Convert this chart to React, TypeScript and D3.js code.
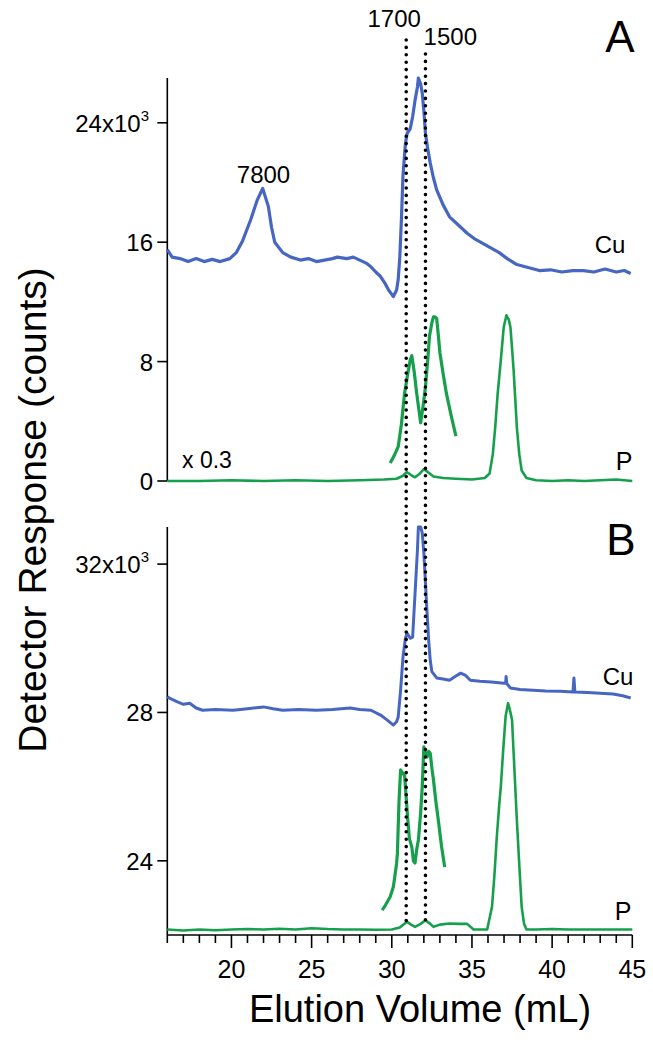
import React from 'react';
import * as d3 from 'd3';

// elution volume (mL) vs detector response (x10^3 counts)
const cuA: [number, number][] = [
  [16, 15.5], [16.3, 15.0], [16.8, 14.9], [17.3, 14.7], [17.8, 14.9], [18.3, 14.7], [18.8, 14.85],
  [19.3, 14.7], [19.9, 14.9], [20.3, 15.3], [20.7, 16.1], [21.2, 17.5], [21.6, 18.8], [21.95, 19.6],
  [22.3, 18.4], [22.5, 17.0], [22.7, 16.0], [23.2, 15.3], [23.7, 15.0], [24.3, 14.8], [24.8, 14.9],
  [25.3, 14.7], [25.8, 14.8], [26.3, 14.9], [26.6, 15.0], [27.2, 14.9], [27.6, 15.0], [28.0, 14.8],
  [28.4, 14.6], [28.7, 14.35], [29.0, 14.0], [29.3, 13.7], [29.6, 13.2], [29.8, 12.8], [30.1, 12.35],
  [30.3, 12.8], [30.4, 13.5], [30.5, 15.0], [30.6, 17.5], [30.7, 20.5], [30.85, 22.6], [30.96, 23.3],
  [31.15, 23.6], [31.3, 24.4], [31.45, 25.5], [31.6, 26.4], [31.66, 27.0], [31.8, 26.6], [31.9, 26.0],
  [32.0, 24.8], [32.1, 23.3], [32.25, 22.2], [32.4, 21.3], [32.6, 20.3], [32.8, 19.5], [33.2, 18.5],
  [33.6, 17.7], [34.2, 17.1], [34.7, 16.6], [35.2, 16.2], [35.7, 15.9], [36.2, 15.6], [36.7, 15.3],
  [37.2, 14.9], [37.8, 14.5], [38.5, 14.3], [39.2, 14.1], [39.9, 14.15], [40.6, 14.0], [41.3, 14.1],
  [41.95, 14.1], [42.6, 14.0], [43.3, 14.2], [44.0, 14.0], [44.5, 14.1], [44.9, 13.9],
];

const pA: [number, number][] = [
  [16, 0], [18, 0], [20, 0.05], [22, 0], [24, 0.05], [26, 0], [28, 0.05], [29.5, 0.1], [30.3, 0.15],
  [30.7, 0.35], [30.94, 0.6], [31.2, 0.4], [31.45, 0.25], [31.7, 0.45], [32.0, 0.8], [32.3, 0.55],
  [32.6, 0.3], [33.2, 0.2], [34, 0.15], [35, 0.1], [35.8, 0.2], [36.1, 0.5], [36.3, 1.8], [36.45, 3.6],
  [36.6, 5.8], [36.8, 8.1], [36.98, 10.3], [37.15, 11.1], [37.3, 10.8], [37.4, 10.3], [37.5, 8.9],
  [37.6, 7.4], [37.7, 5.5], [37.8, 3.6], [37.95, 1.8], [38.1, 0.7], [38.4, 0.2], [39, 0.05], [40, 0],
  [41, 0.05], [42, 0], [43, 0.05], [44, 0.1], [45, 0],
];

// magnified P segment (x 0.3 scale)
const pAzoom: [number, number][] = [
  [29.9, 1.2], [30.15, 1.7], [30.4, 2.3], [30.6, 3.8], [30.8, 5.9], [31.0, 7.2], [31.15, 8.1],
  [31.25, 8.4], [31.4, 7.3], [31.55, 5.9], [31.7, 4.7], [31.8, 3.9], [31.95, 5.0], [32.1, 6.3],
  [32.25, 8.2], [32.35, 9.7], [32.5, 10.6], [32.6, 11.0], [32.7, 11.0], [32.8, 10.9], [32.9, 9.8],
  [33.0, 8.6], [33.2, 7.2], [33.4, 5.9], [33.7, 4.4], [34.0, 3.0],
];

const cuB: [number, number][] = [
  [16, 28.42], [16.3, 28.35], [16.6, 28.29], [17.0, 28.22], [17.4, 28.25], [17.8, 28.12], [18.2, 28.06],
  [19, 28.08], [20.1, 28.06], [21, 28.1], [22.0, 28.15], [22.6, 28.1], [23.2, 28.06], [24.2, 28.08],
  [25.3, 28.06], [26.3, 28.08], [27.4, 28.12], [28.0, 28.08], [28.7, 28.06], [29.3, 27.93], [29.7, 27.8],
  [30.1, 27.66], [30.3, 27.75], [30.4, 27.88], [30.55, 28.6], [30.7, 29.5], [30.85, 30.0], [30.95, 30.14],
  [31.15, 30.0], [31.3, 30.03], [31.45, 31.2], [31.6, 32.38], [31.66, 33.0], [31.8, 33.0], [31.9, 32.84],
  [32.0, 32.3], [32.1, 31.5], [32.2, 30.7], [32.3, 29.95], [32.4, 29.4], [32.5, 29.1], [32.8, 28.93],
  [33.2, 28.9], [33.6, 28.87], [34.0, 28.98], [34.3, 29.06], [34.6, 29.0], [34.9, 28.87], [35.5, 28.84],
  [36.2, 28.82], [37.0, 28.79], [37.1, 28.79], [37.13, 28.97], [37.17, 28.78], [37.4, 28.66], [38.0, 28.62],
  [38.8, 28.6], [39.6, 28.58], [40.5, 28.57], [41.3, 28.55], [41.36, 28.93], [41.42, 28.55], [42.2, 28.54],
  [43.0, 28.52], [43.8, 28.5], [44.4, 28.45], [44.9, 28.39],
];

const pB: [number, number][] = [
  [16, 22.15], [17, 22.12], [18, 22.15], [19, 22.13], [20, 22.15], [21, 22.16], [22, 22.15], [23, 22.17],
  [24, 22.15], [25, 22.18], [26, 22.16], [27, 22.15], [28, 22.15], [29, 22.14], [30, 22.15], [30.5, 22.2],
  [30.94, 22.36], [31.2, 22.28], [31.45, 22.22], [31.8, 22.3], [32.1, 22.4], [32.4, 22.3], [32.6, 22.22],
  [33.0, 22.28], [33.6, 22.31], [34.2, 22.3], [34.7, 22.3], [35.1, 22.15], [35.95, 22.15], [36.25, 22.76],
  [36.4, 23.6], [36.55, 24.65], [36.7, 25.5], [36.8, 26.0], [36.95, 27.0], [37.1, 27.9], [37.25, 28.25],
  [37.35, 28.1], [37.5, 27.8], [37.6, 26.9], [37.7, 26.0], [37.8, 25.1], [37.95, 23.9], [38.1, 22.76],
  [38.25, 22.3], [38.4, 22.15], [39, 22.15], [40, 22.16], [41, 22.15], [42, 22.15], [43, 22.15],
  [44, 22.15], [45, 22.15],
];

const pBzoom: [number, number][] = [
  [29.4, 22.67], [29.6, 22.8], [29.9, 23.03], [30.1, 23.3], [30.3, 23.93], [30.35, 24.2], [30.45, 25.6],
  [30.55, 26.45], [30.7, 26.35], [30.8, 26.3], [30.9, 25.7], [31.0, 25.1], [31.1, 24.6], [31.25, 24.37],
  [31.35, 24.0], [31.45, 23.94], [31.55, 24.3], [31.66, 24.56], [31.8, 25.3], [31.9, 26.0], [32.0, 27.07],
  [32.1, 26.9], [32.2, 26.8], [32.3, 26.95], [32.4, 26.9], [32.5, 26.5], [32.6, 26.18], [32.75, 25.6],
  [32.9, 25.1], [33.1, 24.4], [33.3, 23.83],
];

const markerVolumes = [30.9, 32.1];
const xTicksMajor = [20, 25, 30, 35, 40, 45];
const yTicksA = [0, 8, 16, 24];
const yTicksB = [24, 28, 32];

const BLUE = '#4766c2';
const GREEN = '#16a04c';
const FONT = 'Liberation Sans, Arial, sans-serif';

export default function App() {
  const x = d3.scaleLinear().domain([16, 45]).range([167.3, 632.3]);
  const yA = d3.scaleLinear().domain([0, 27]).range([481, 78]);
  const yB = d3.scaleLinear().domain([22, 33]).range([935, 527]);

  const lineA = d3.line<[number, number]>().x(d => x(d[0])).y(d => yA(d[1]));
  const lineB = d3.line<[number, number]>().x(d => x(d[0])).y(d => yB(d[1]));

  const minor = d3.range(16, 46);
  const axX = x(16);

  const yLabel = (v: number, scale: d3.ScaleLinear<number, number>, top: boolean) => (
    <text key={v} x={top ? 149 : 153} y={scale(v) + 9} textAnchor="end" fontSize={24}>
      {top ? (
        <>
          {v}x10<tspan dy={-11} fontSize={15}>3</tspan>
        </>
      ) : v}
    </text>
  );

  return (
    <svg width={653} height={1050} style={{ position: 'absolute', left: 0, top: 0, background: '#fff' }}
      fontFamily={FONT}>
      {/* panel A axis */}
      <line x1={axX} x2={axX} y1={78} y2={481} stroke="#000" strokeWidth={1.6} />
      {yTicksA.map(v => (
        <line key={v} x1={axX - 10} x2={axX} y1={yA(v)} y2={yA(v)} stroke="#000" strokeWidth={1.6} />
      ))}
      {yTicksA.map(v => yLabel(v, yA, v === 24))}

      {/* panel B axis */}
      <line x1={axX} x2={axX} y1={527} y2={935} stroke="#000" strokeWidth={1.6} />
      {yTicksB.map(v => (
        <line key={v} x1={axX - 10} x2={axX} y1={yB(v)} y2={yB(v)} stroke="#000" strokeWidth={1.6} />
      ))}
      {yTicksB.map(v => yLabel(v, yB, v === 32))}

      {/* x axis */}
      <line x1={x(16)} x2={x(45)} y1={935} y2={935} stroke="#000" strokeWidth={1.6} />
      {minor.map(v => (
        <line key={v} x1={x(v)} x2={x(v)} y1={935}
          y2={xTicksMajor.includes(v) ? 948 : 943} stroke="#000" strokeWidth={1.6} />
      ))}
      {xTicksMajor.map(v => (
        <text key={v} x={x(v)} y={978} textAnchor="middle" fontSize={25}>{v}</text>
      ))}
      <text x={420} y={1022} textAnchor="middle" fontSize={38}>Elution Volume (mL)</text>
      <text transform="translate(46,510) rotate(-90)" textAnchor="middle" fontSize={39}>
        Detector Response (counts)
      </text>

      {/* traces */}
      <path d={lineA(cuA) ?? ''} fill="none" stroke={BLUE} strokeWidth={3.2} strokeLinejoin="round" />
      <path d={lineA(pA) ?? ''} fill="none" stroke={GREEN} strokeWidth={2.6} strokeLinejoin="round" />
      <path d={lineA(pAzoom) ?? ''} fill="none" stroke={GREEN} strokeWidth={3.2} strokeLinejoin="round" />
      <path d={lineB(cuB) ?? ''} fill="none" stroke={BLUE} strokeWidth={3} strokeLinejoin="round" />
      <path d={lineB(pB) ?? ''} fill="none" stroke={GREEN} strokeWidth={2.6} strokeLinejoin="round" />
      <path d={lineB(pBzoom) ?? ''} fill="none" stroke={GREEN} strokeWidth={3.2} strokeLinejoin="round" />

      {/* dotted marker lines */}
      {markerVolumes.map((v, i) => (
        <line key={v} x1={x(v)} x2={x(v)} y1={i === 0 ? 40 : 54} y2={925}
          stroke="#000" strokeWidth={3.6} strokeDasharray="0 7.4" strokeLinecap="round" />
      ))}

      {/* annotations */}
      <text x={x(30.15)} y={27} textAnchor="middle" fontSize={24}>1700</text>
      <text x={x(33.65)} y={45} textAnchor="middle" fontSize={24}>1500</text>
      <text x={x(22)} y={183} textAnchor="middle" fontSize={24}>7800</text>
      <text x={620} y={52} textAnchor="middle" fontSize={44}>A</text>
      <text x={621} y={555} textAnchor="middle" fontSize={44}>B</text>
      <text x={610} y={253} textAnchor="middle" fontSize={24}>Cu</text>
      <text x={618} y={685} textAnchor="middle" fontSize={24}>Cu</text>
      <text x={624} y={470} textAnchor="middle" fontSize={25}>P</text>
      <text x={623} y={920} textAnchor="middle" fontSize={25}>P</text>
      <text x={182} y={468} fontSize={23}>x 0.3</text>
    </svg>
  );
}
